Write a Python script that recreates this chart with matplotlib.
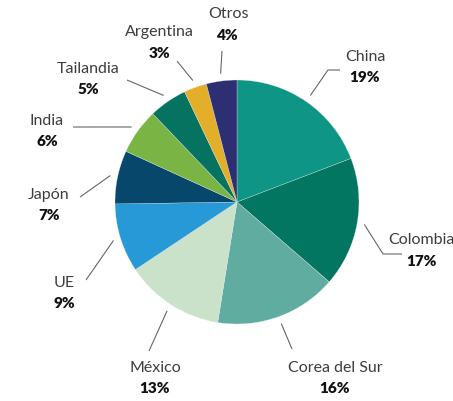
import numpy as np
import matplotlib
matplotlib.use("Agg")
import matplotlib.pyplot as plt

# data
paises = ["China", "Colombia", "Corea del Sur", "México", "UE",
          "Japón", "India", "Tailandia", "Argentina", "Otros"]
valores = [19, 17, 16, 13, 9, 7, 6, 5, 3, 4]
colores = ["#0f9585", "#037662", "#60aca0", "#c9e2c9", "#2699d6",
           "#07476b", "#7ab445", "#05735f", "#e3ae2a", "#2e2f72"]

# layout (image pixel coords, y from top)
W, H = 453, 402
cx, cy, R = 237, 203, 122
# leader line bend points, then label centre
guias = [[(328, 71), (340, 71)], [(383, 255), (402, 255)], [(292, 350)],
         [(149, 352)], [(86, 281)], [(80, 198)], [(73, 128)],
         [(127, 81)], [(177, 62)], [(222, 52)]]
etiquetas = [(365, 57), (421, 240), (335, 368), (155, 368), (64, 283),
             (49, 195), (47, 121), (88, 69), (159, 32), (228, 14)]

fig = plt.figure(figsize=(W / 100, H / 100), dpi=100)
ax = fig.add_axes([0, 0, 1, 1])

wedges, _ = ax.pie(valores, colors=colores, startangle=90, counterclock=False,
                   center=(cx, H - cy), radius=R,
                   wedgeprops=dict(linewidth=0.2, edgecolor="#e8f0ee"))
ax.set_xlim(0, W)
ax.set_ylim(0, H)
ax.set_aspect("equal")
ax.axis("off")

for w, pais, v, guia, (tx, ty) in zip(wedges, paises, valores, guias, etiquetas):
    ang = np.deg2rad((w.theta1 + w.theta2) / 2)
    x0 = cx + 1.06 * R * np.cos(ang)
    y0 = (H - cy) + 1.06 * R * np.sin(ang)
    xs = [x0] + [p[0] for p in guia]
    ys = [y0] + [H - p[1] for p in guia]
    ax.plot(xs, ys, color="#666666", lw=0.8, solid_capstyle="butt")
    ax.text(tx, H - ty, pais, ha="center", va="center", fontsize=11.5,
            family="Lato", fontweight="normal", color="#3d3d3d")
    ax.text(tx, H - ty - 21, f"{v}%", ha="center", va="center", fontsize=11,
            family="Lato", fontweight="heavy", color="#111111")

fig.savefig("out.png", dpi=100)
